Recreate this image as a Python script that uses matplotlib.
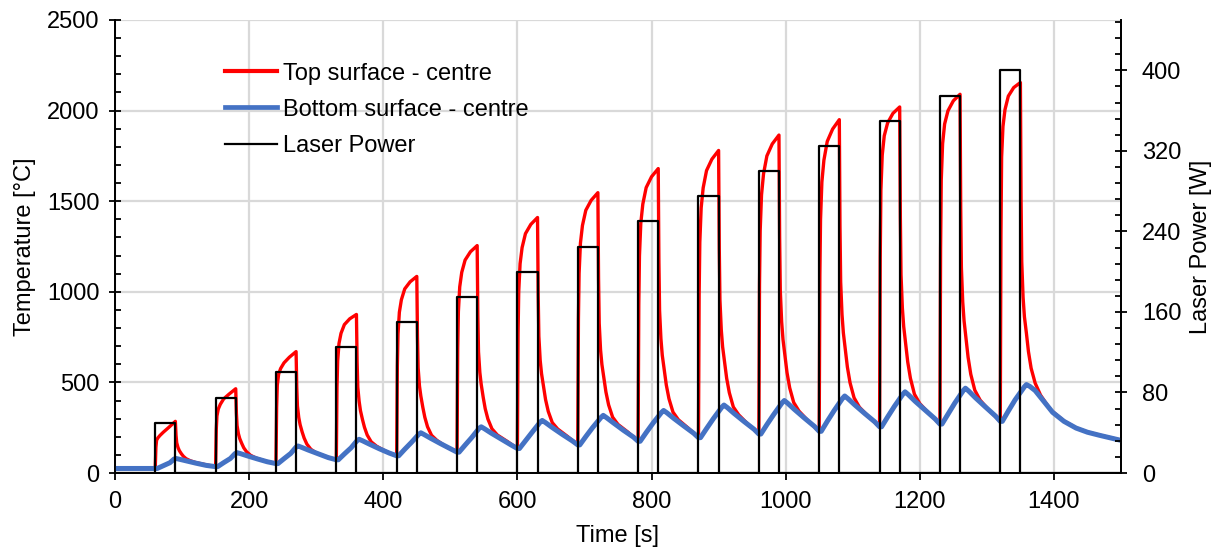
import matplotlib
matplotlib.use("Agg")
import matplotlib.pyplot as plt
from matplotlib.ticker import MultipleLocator
from matplotlib.lines import Line2D

plt.rcParams["font.family"] = ["Liberation Sans", "DejaVu Sans"]
FS = 17

# ---- data ----
# top surface (centre) temperature, one row per laser cycle
top_time = [
    0,
    60, 61, 62, 64, 67, 72, 80, 90, 91, 92, 94, 96, 99, 102, 106, 112, 120, 135,
    150, 151, 152, 154, 157, 162, 170, 180, 181, 182, 184, 186, 189, 192, 196, 202, 210, 225,
    240, 241, 242, 244, 247, 252, 260, 270, 271, 272, 274, 276, 279, 282, 286, 292, 300, 315,
    330, 331, 332, 334, 337, 342, 350, 360, 361, 362, 364, 366, 369, 372, 376, 382, 390, 405,
    420, 421, 422, 424, 427, 432, 440, 450, 451, 452, 454, 456, 459, 462, 466, 472, 480, 495,
    510, 511, 512, 514, 517, 522, 530, 540, 541, 542, 544, 546, 549, 552, 556, 562, 570, 585,
    600, 601, 602, 604, 607, 612, 620, 630, 631, 632, 634, 636, 639, 642, 646, 652, 660, 675,
    690, 691, 692, 694, 697, 702, 710, 720, 721, 722, 724, 726, 729, 732, 736, 742, 750, 765,
    780, 781, 782, 784, 787, 792, 800, 810, 811, 812, 814, 816, 819, 822, 826, 832, 840, 855,
    870, 871, 872, 874, 877, 882, 890, 900, 901, 902, 904, 906, 909, 912, 916, 922, 930, 945,
    960, 961, 962, 964, 967, 972, 980, 990, 991, 992, 994, 996, 999, 1002, 1006, 1012, 1020, 1035,
    1050, 1051, 1052, 1054, 1057, 1062, 1070, 1080, 1081, 1082, 1084, 1086, 1089, 1092, 1096, 1102, 1110, 1125,
    1140, 1141, 1142, 1144, 1147, 1152, 1160, 1170, 1171, 1172, 1174, 1176, 1179, 1182, 1186, 1192, 1200, 1215,
    1230, 1231, 1232, 1234, 1237, 1242, 1250, 1260, 1261, 1262, 1264, 1266, 1269, 1272, 1276, 1282, 1290, 1305,
    1320, 1321, 1322, 1324, 1327, 1332, 1340, 1350, 1351, 1352, 1354, 1356, 1359, 1362, 1366, 1372, 1380, 1395,
    1415, 1433, 1450, 1468, 1485, 1500,
]
top_temp = [
    25,
    25, 142, 181, 194, 207, 225, 251, 285, 208, 167, 140, 123, 106, 92, 79, 68, 58, 46,
    35, 241, 315, 353, 379, 409, 435, 465, 331, 262, 217, 190, 163, 139, 118, 98, 83, 65,
    52, 361, 485, 546, 577, 608, 639, 670, 474, 370, 306, 267, 227, 193, 160, 131, 111, 90,
    73, 474, 618, 715, 771, 819, 851, 875, 612, 474, 396, 344, 295, 252, 210, 172, 148, 117,
    95, 590, 768, 887, 956, 1016, 1055, 1085, 753, 580, 480, 425, 362, 307, 255, 208, 180, 142,
    115, 685, 890, 1027, 1107, 1175, 1221, 1255, 871, 669, 555, 490, 418, 355, 298, 244, 210, 174,
    135, 773, 1002, 1155, 1244, 1321, 1372, 1410, 979, 754, 621, 548, 477, 405, 340, 278, 243, 201,
    155, 851, 1102, 1269, 1366, 1450, 1505, 1547, 1073, 825, 679, 599, 524, 447, 376, 308, 268, 225,
    175, 928, 1198, 1379, 1484, 1575, 1635, 1680, 1165, 896, 741, 650, 568, 486, 410, 336, 294, 247,
    195, 988, 1273, 1463, 1574, 1669, 1732, 1780, 1238, 955, 790, 696, 609, 523, 443, 364, 321, 265,
    215, 1040, 1337, 1535, 1651, 1750, 1816, 1865, 1300, 1006, 835, 737, 644, 554, 470, 389, 341, 282,
    230, 1090, 1400, 1606, 1726, 1830, 1898, 1950, 1362, 1055, 875, 774, 680, 585, 498, 415, 363, 306,
    255, 1190, 1561, 1755, 1861, 1932, 1985, 2020, 1412, 1095, 911, 808, 711, 613, 523, 435, 383, 324,
    270, 1235, 1617, 1817, 1926, 1999, 2054, 2090, 1462, 1135, 945, 840, 739, 639, 545, 457, 402, 339,
    285, 1314, 1744, 1912, 2005, 2080, 2127, 2155, 1506, 1167, 969, 862, 770, 670, 578, 496, 430, 348,
    287, 249, 226, 209, 194, 181,
]

# bottom surface (centre) temperature
bot_time = [
    0, 60,
    63, 72, 82, 88, 91, 96, 106, 121, 136,
    150, 153, 162, 172, 179, 182, 187, 197, 212, 227,
    240, 243, 252, 262, 270, 273, 278, 288, 303, 318,
    330, 333, 342, 352, 361, 364, 369, 379, 394, 409,
    420, 423, 432, 442, 453, 456, 461, 471, 486, 501,
    510, 513, 522, 532, 543, 546, 551, 561, 576, 591,
    600, 603, 612, 622, 634, 637, 642, 652, 667, 682,
    690, 693, 702, 712, 725, 728, 733, 743, 758, 773,
    780, 783, 792, 802, 815, 818, 823, 833, 848, 863,
    870, 873, 882, 892, 905, 908, 913, 923, 938, 953,
    960, 963, 972, 982, 995, 998, 1003, 1013, 1028, 1043,
    1050, 1053, 1062, 1072, 1085, 1088, 1093, 1103, 1118, 1133,
    1140, 1143, 1152, 1162, 1175, 1178, 1183, 1193, 1208, 1223,
    1230, 1233, 1242, 1252, 1265, 1268, 1273, 1283, 1298, 1313,
    1320, 1323, 1332, 1342, 1356, 1359, 1364, 1372, 1385, 1398,
    1415, 1433, 1450, 1468, 1485, 1500,
]
bot_temp = [
    25, 25,
    25, 40, 57, 77, 80, 76, 67, 54, 42,
    35, 35, 57, 80, 107, 112, 107, 95, 78, 62,
    52, 52, 79, 108, 143, 149, 142, 127, 106, 85,
    73, 73, 105, 139, 179, 186, 178, 160, 134, 110,
    95, 95, 131, 169, 214, 222, 212, 191, 161, 132,
    115, 115, 154, 196, 247, 255, 244, 220, 187, 154,
    135, 135, 178, 225, 281, 290, 278, 251, 213, 177,
    155, 155, 201, 250, 308, 318, 305, 277, 236, 198,
    175, 175, 223, 274, 335, 345, 332, 302, 260, 219,
    195, 195, 245, 299, 364, 375, 361, 329, 284, 241,
    215, 215, 267, 322, 389, 400, 385, 351, 303, 257,
    230, 230, 285, 343, 413, 425, 410, 376, 328, 282,
    255, 255, 309, 367, 436, 448, 432, 396, 347, 298,
    270, 270, 325, 385, 456, 468, 452, 415, 364, 314,
    285, 285, 342, 403, 476, 488, 478, 455, 395, 335,
    285, 248, 225, 208, 193, 180,
]

# laser pulses: start time [s], duration [s], power [W]
pulse_start = [60, 150, 240, 330, 420, 510, 600, 690, 780, 870, 960, 1050, 1140, 1230, 1320]
pulse_len = 30
pulse_power = [50, 75, 100, 125, 150, 175, 200, 225, 250, 275, 300, 325, 350, 375, 400]

RED = "#ff0000"
BLUE = "#4472c4"
GRID = "#d9d9d9"

laser_t = [0]
laser_p = [0]
for s, pw in zip(pulse_start, pulse_power):
    laser_t += [s, s, s + pulse_len, s + pulse_len]
    laser_p += [0, pw, pw, 0]
laser_t.append(1500)
laser_p.append(0)

fig = plt.figure(figsize=(12.22, 5.51), dpi=100)
ax = fig.add_axes([115 / 1222, 1 - 473 / 551, 1006 / 1222, 453 / 551])
ax2 = ax.twinx()

ax.plot(top_time, top_temp, color=RED, lw=2.4, solid_joinstyle="round", zorder=3)
ax.plot(bot_time, bot_temp, color=BLUE, lw=3.6, solid_joinstyle="round",
        solid_capstyle="round", zorder=4)
ax2.plot(laser_t, laser_p, color="black", lw=1.6, zorder=5)

ax.set_xlim(0, 1500)
ax.set_ylim(0, 2500)
ax2.set_ylim(0, 450)

ax.xaxis.set_major_locator(MultipleLocator(200))
ax.yaxis.set_major_locator(MultipleLocator(500))
ax.yaxis.set_minor_locator(MultipleLocator(100))
ax2.yaxis.set_major_locator(MultipleLocator(80))
ax2.yaxis.set_minor_locator(MultipleLocator(16))

ax.set_axisbelow(True)
ax.grid(True, which="major", color=GRID, lw=1.6)

for a in (ax, ax2):
    a.spines["top"].set_visible(False)
    for sp in ("left", "right", "bottom"):
        a.spines[sp].set_linewidth(1.3)

ax.tick_params(axis="x", which="major", direction="out", length=5, width=1.3,
               labelsize=FS, pad=8)
ax.tick_params(axis="y", which="major", direction="inout", length=8, width=1.3,
               labelsize=FS, pad=7)
ax.tick_params(axis="y", which="minor", direction="in", length=4, width=1.3)
ax2.tick_params(axis="y", which="major", direction="inout", length=8, width=1.3,
                labelsize=FS, pad=11)
ax2.tick_params(axis="y", which="minor", direction="in", length=4, width=1.3)

ax.set_xlabel("Time [s]", fontsize=FS)
ax.set_ylabel("Temperature [°C]", fontsize=FS)
ax2.set_ylabel("Laser Power [W]", fontsize=FS, rotation=90)
ax.xaxis.set_label_coords(0.5, -0.115)
ax.yaxis.set_label_coords(-0.079, 0.5)
ax2.yaxis.set_label_coords(1.069, 0.5)

handles = [
    Line2D([], [], color=RED, lw=3.0),
    Line2D([], [], color=BLUE, lw=3.4),
    Line2D([], [], color="black", lw=1.6),
]
labels = ["Top surface - centre", "Bottom surface - centre", "Laser Power"]
ax2.legend(handles, labels, loc="upper left", bbox_to_anchor=(0.109, 0.906),
           frameon=False, fontsize=FS, handlelength=2.2, handletextpad=0.25,
           labelspacing=0.6, borderaxespad=0, borderpad=0)

fig.savefig("out.png", dpi=100)
